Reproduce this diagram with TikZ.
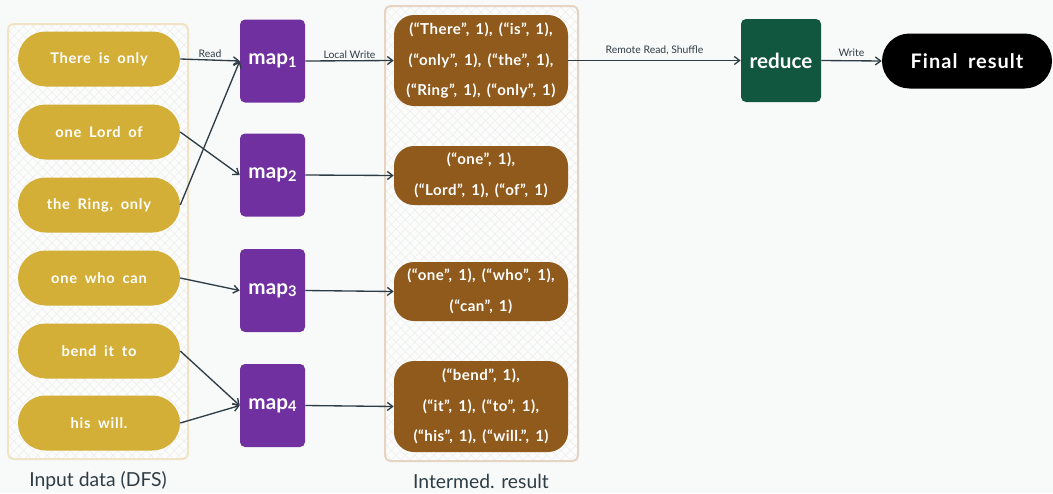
\documentclass[tikz,border=0pt]{standalone}
\usepackage{fontspec}
\setmainfont{Lato}
\newfontfamily\boxfont[LetterSpace=5,WordSpace=1.8]{Lato}
\newfontfamily\interfont[LetterSpace=3,WordSpace=1.5]{Lato}
\usetikzlibrary{shapes.misc,arrows.meta,patterns.meta}
\definecolor{bg}{HTML}{F8F9F9}
\definecolor{pillc}{HTML}{D4AF37}
\definecolor{mapc}{HTML}{7030A0}
\definecolor{brownc}{HTML}{8F5A1C}
\definecolor{redc}{HTML}{115740}
\definecolor{arrc}{HTML}{2E3D45}
\definecolor{inbord}{HTML}{F0E4C4}
\definecolor{midbord}{HTML}{E5D4C2}
\definecolor{hatch}{HTML}{EFEDEA}
\tikzset{
  pill/.style={rounded rectangle, fill=pillc, text=white, minimum width=121.5pt, minimum height=41.25pt, inner sep=0pt, font=\boxfont\fontsize{11}{13}\selectfont\bfseries},
  mapbox/.style={rectangle, rounded corners=3.75pt, fill=mapc, text=white, minimum width=48.75pt, minimum height=62.25pt, inner sep=0pt, font=\fontsize{15.5}{17}\selectfont\bfseries},
  inter/.style={rectangle, rounded corners=15pt, fill=brownc, text=white, minimum width=130.5pt, inner sep=0pt, align=center, font=\interfont\fontsize{11.3}{23}\selectfont\bfseries},
  redbox/.style={rectangle, rounded corners=3.75pt, fill=redc, text=white, minimum width=60pt, minimum height=62.25pt, inner sep=0pt, font=\fontsize{15.5}{17}\selectfont\bfseries},
  finalbox/.style={rounded rectangle, fill=black, text=white, minimum width=127.5pt, minimum height=41.25pt, inner sep=0pt, font=\boxfont\fontsize{15}{17}\selectfont\bfseries},
  conn/.style={draw=arrc, line width=1pt, -{Straight Barb[length=4pt,width=6pt]}},
  elabel/.style={text=arrc, font=\fontsize{7.8}{9}\selectfont, inner sep=1pt},
  caption/.style={text=arrc, font=\fontsize{14.5}{17}\selectfont},
  container/.style={rounded corners=4pt, line width=1.5pt},
}
\newcommand{\mapsub}[1]{map{\fontsize{11}{12}\selectfont\raisebox{-0.35ex}{#1}}}
\begin{document}
\begin{tikzpicture}[x=0.75pt,y=-0.75pt]
\fill[bg] (0,0) rectangle (1053,493);
\useasboundingbox (0,0) rectangle (1053,493);
% containers
\foreach \a/\b/\c/\d/\col in {8/24/188/459/inbord, 385/6/578/461/midbord}{
  \fill[white!50!bg, rounded corners=4pt] (\a,\b) rectangle (\c,\d);
  \fill[pattern={Lines[angle=45,distance=5pt,line width=0.4pt]}, pattern color=hatch] (\a,\b) rectangle (\c,\d);
  \fill[pattern={Lines[angle=-45,distance=5pt,line width=0.4pt]}, pattern color=hatch] (\a,\b) rectangle (\c,\d);
  \draw[\col, container] (\a,\b) rectangle (\c,\d);
}
% input pills
\node[pill] (p1) at (99,59) {There is only};
\node[pill] (p2) at (99,132) {one Lord of};
\node[pill] (p3) at (99,205) {the Ring, only};
\node[pill] (p4) at (99,278) {one who can};
\node[pill] (p5) at (99,351) {bend it to};
\node[pill] (p6) at (99,423) {his will.};
% maps
\node[mapbox] (m1) at (272.5,61) {\mapsub{1}};
\node[mapbox] (m2) at (272.5,175) {\mapsub{2}};
\node[mapbox] (m3) at (272.5,290.5) {\mapsub{3}};
\node[mapbox] (m4) at (272.5,405.5) {\mapsub{4}};
% intermediate
\node[inter, minimum height=68.25pt] (i1) at (481,60.5) {(“There”, 1), (“is”, 1),\\(“only”, 1), (“the”, 1),\\(“Ring”, 1), (“only”, 1)};
\node[inter, minimum height=44.25pt] (i2) at (481,175.5) {(“one”, 1),\\(“Lord”, 1), (“of”, 1)};
\node[inter, minimum height=44.25pt] (i3) at (481,291.5) {(“one”, 1), (“who”, 1),\\(“can”, 1)};
\node[inter, minimum height=68.25pt] (i4) at (481,406.5) {(“bend”, 1),\\(“it”, 1), (“to”, 1),\\(“his”, 1), (“will.”, 1)};
% reduce, final
\node[redbox] (r) at (781,60.5) {reduce};
\node[finalbox] (f) at (967,61) {Final result};
% connectors
\draw[conn] (p1.east) -- node[elabel, above] {Read} (m1.west);
\draw[conn] (p2.east) -- (m2.west);
\draw[conn] (p3.east) -- (m1.west);
\draw[conn] (p4.east) -- (m3.west);
\draw[conn] (p5.east) -- (m4.west);
\draw[conn] (p6.east) -- (m4.west);
\draw[conn] (m1.east) -- node[elabel, above] {Local Write} (i1.west);
\draw[conn] (m2.east) -- (i2.west);
\draw[conn] (m3.east) -- (i3.west);
\draw[conn] (m4.east) -- (i4.west);
\draw[conn] (i1.east) -- node[elabel, above=3pt] {Remote Read, Shuffle} (r.west);
\draw[conn] (r.east) -- node[elabel, above=2pt] {Write} (f.west);
% captions
\node[caption] (c1) at (98,481) {Input data (DFS)};
\node[caption] (c2) at (481,481) {Intermed. result};
\end{tikzpicture}
\end{document}
